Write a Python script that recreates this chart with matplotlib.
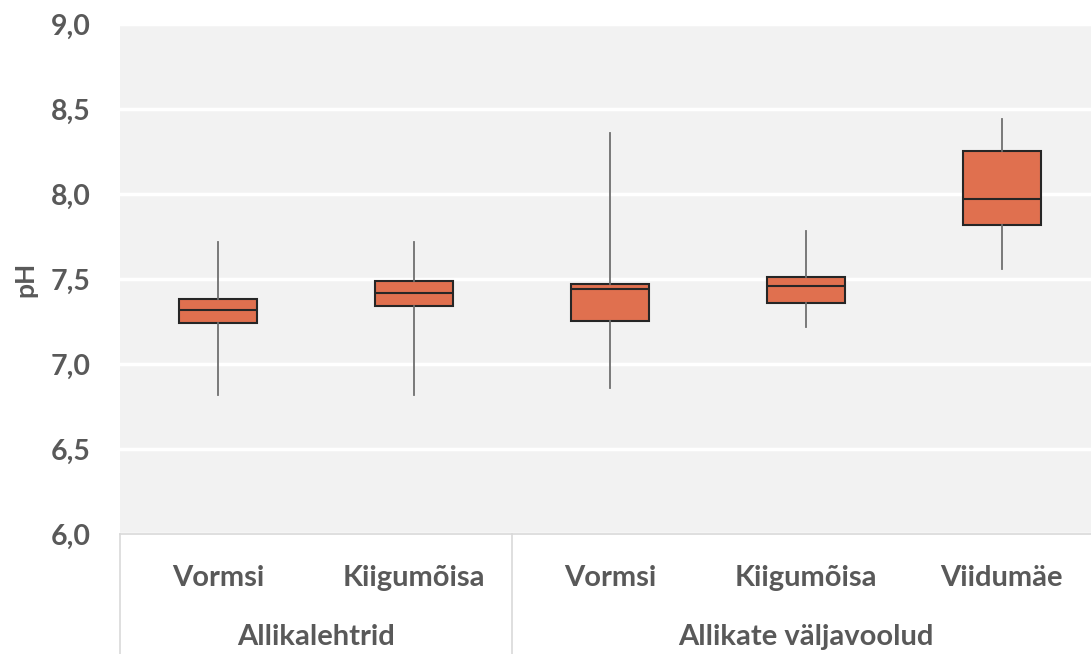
import numpy as np
import matplotlib
matplotlib.use('Agg')
import matplotlib.pyplot as plt
import matplotlib.transforms as mtransforms

### pH box plots of springs: source ponds vs outflows ###

plt.rcParams['font.family'] = ['Lato', 'DejaVu Sans']

sites = ['Vormsi', 'Kiigumõisa', 'Vormsi', 'Kiigumõisa', 'Viidumäe']
groups = ['Allikalehtrid', 'Allikate väljavoolud']
group_sizes = [2, 3]

whisker_low = [6.82, 6.82, 6.86, 7.22, 7.56]
q1 = [7.24, 7.34, 7.25, 7.36, 7.82]
median = [7.32, 7.42, 7.44, 7.46, 7.97]
q3 = [7.38, 7.49, 7.47, 7.51, 8.25]
whisker_high = [7.72, 7.72, 8.36, 7.78, 8.44]

text_color = '#595959'
box_color = '#E0704F'


def build_stats():
    stats = []
    for i in range(len(sites)):
        stats.append({'whislo': whisker_low[i], 'q1': q1[i], 'med': median[i],
                      'q3': q3[i], 'whishi': whisker_high[i], 'fliers': [],
                      'label': sites[i]})
    return stats


fig = plt.figure(figsize=(10.91, 6.54), dpi=100)
# plot area runs a little past the right edge of the picture
ax = fig.add_axes([0.110, 0.1835, 0.898, 0.7798])
ax.set_facecolor('#F2F2F2')

positions = np.arange(len(sites))
ax.bxp(build_stats(), positions=positions, widths=0.4, showfliers=False,
       showcaps=False, patch_artist=True,
       boxprops=dict(facecolor=box_color, edgecolor='#262626', linewidth=1.5),
       medianprops=dict(color='#262626', linewidth=1.5),
       whiskerprops=dict(color='#707070', linewidth=1.3),
       zorder=3)

ax.set_ylim(6.0, 9.0)
ax.set_xlim(-0.5, len(sites) - 0.5)
ax.set_yticks(np.arange(6.0, 9.01, 0.5))
ax.set_yticklabels([('%.1f' % v).replace('.', ',') for v in np.arange(6.0, 9.01, 0.5)],
                   fontsize=20.5, fontweight='bold', color=text_color)
ax.grid(axis='y', color='white', linewidth=2.5, zorder=1)
ax.set_axisbelow(True)
ax.tick_params(axis='y', length=0, pad=21)
ax.tick_params(axis='x', length=0)
ax.set_xticks([])
for s in ax.spines.values():
    s.set_visible(False)

fig.text(25 / 1091, 1 - 279 / 654, 'pH', rotation=90, ha='center', va='center',
         fontsize=19, fontweight='bold', color=text_color)

# two level category axis
trans = mtransforms.blended_transform_factory(ax.transData, ax.transAxes)
ax.plot([-0.5, len(sites) - 0.5], [0, 0], transform=trans, color='#D9D9D9',
        linewidth=1.2, clip_on=False, zorder=5)
bounds = np.cumsum([0] + group_sizes) - 0.5
for b in bounds[:-1]:
    ax.plot([b, b], [0, -0.24], transform=trans, color='#D9D9D9',
            linewidth=1.2, clip_on=False)

for i, name in enumerate(sites):
    ax.text(positions[i], -0.086, name, transform=trans, ha='center', va='center',
            fontsize=21, fontweight='bold', color=text_color)

for g, name in enumerate(groups):
    center = (bounds[g] + bounds[g + 1]) / 2
    ax.text(center, -0.202, name, transform=trans, ha='center', va='center',
            fontsize=21, fontweight='bold', color=text_color)

fig.savefig('out.png', dpi=100)
